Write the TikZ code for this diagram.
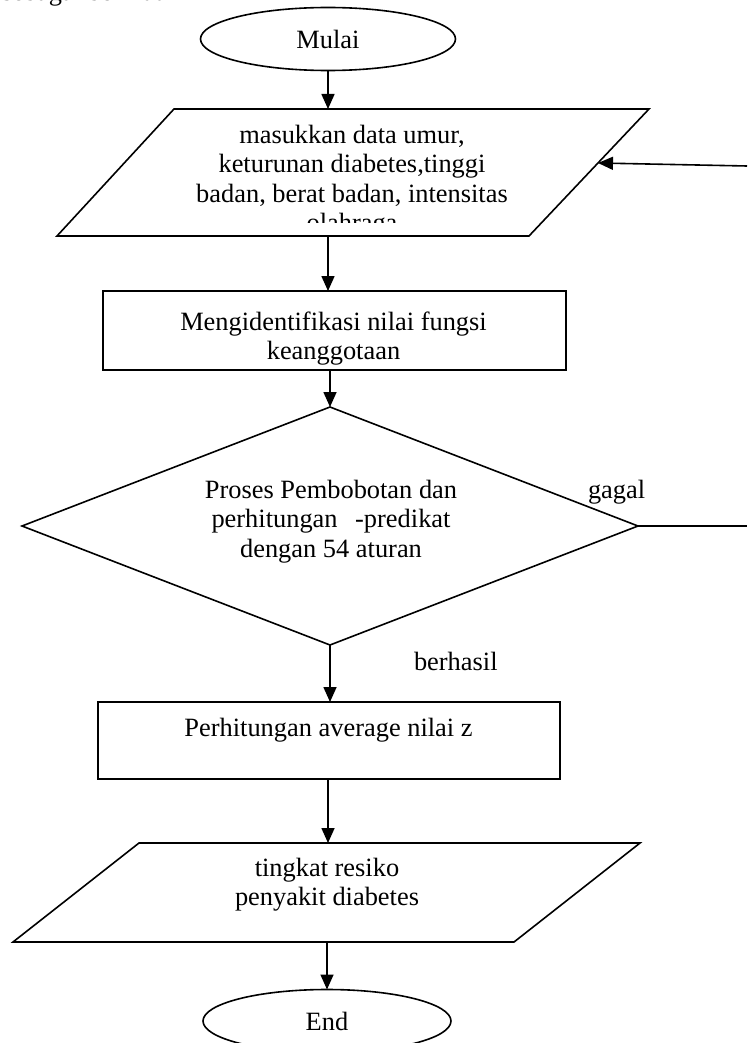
\documentclass[tikz,border=0pt]{standalone}
\usepackage{fontspec}
\setmainfont{Liberation Serif}
\usetikzlibrary{arrows.meta,shapes.geometric,calc}
\begin{document}
\begin{tikzpicture}[x=1pt,y=-1pt,
  every node/.style={font=\fontsize{26.4}{29.5}\selectfont, inner sep=0pt, outer sep=0pt},
  shapeline/.style={draw=black, line width=1.6pt},
  txt/.style={align=center},
  lbl/.style={anchor=base west},
  arr/.style={-{Triangle[length=15pt,width=13pt]}, line width=1.6pt},
  term/.style={ellipse, shapeline, minimum width=#1, minimum height=63pt},
  procbox/.style={rectangle, shapeline, minimum width=#1},
  decbox/.style={diamond, shapeline, minimum width=616pt, minimum height=238pt}
]
\useasboundingbox (0,0) rectangle (747,1043);

% cut-off heading text
\begin{scope}
  \clip (0,0) rectangle (747,1043);
  \node[lbl] (head) at (2,0.5) {sebagai berikut};
\end{scope}

% start
\node[term=255pt] (m) at (328,39) {Mulai};

% input parallelogram
\coordinate (p1a) at (174,109);
\coordinate (p1b) at (649,109);
\coordinate (p1c) at (529,236);
\coordinate (p1d) at (57,236);
\draw[shapeline, line join=miter] (p1a) -- (p1b) -- (p1c) -- (p1d) -- cycle;
\coordinate (p1n) at (328,109);
\coordinate (p1s) at (328,236);
\coordinate (p1e) at (598,163);
\begin{scope}
  \clip (0,100) rectangle (747,222.5);
  \node[txt] (p1t) at (352,181) {masukkan data umur,\\keturunan diabetes,tinggi\\badan, berat badan, intensitas\\olahraga};
\end{scope}

% process 1
\node[procbox=463pt, minimum height=79pt] (r1) at (334.5,330.5) {};
\node[txt] (r1t) at (333.5,338.6) {Mengidentifikasi nilai fungsi\\keanggotaan};

% decision
\node[decbox] (d) at (330,526) {};
\node[txt] (dt) at (331,521.4) {Proses Pembobotan dan\\perhitungan \hspace{11pt}-predikat\\dengan 54 aturan};
\node[lbl] (gagal) at (588,498) {gagal};
\node[lbl] (berhasil) at (414,670) {berhasil};

% process 2
\node[procbox=462pt, minimum height=77pt] (r2) at (329,740.5) {};
\node[anchor=base] (r2t) at (328.5,736) {Perhitungan average nilai z};

% output parallelogram
\coordinate (p2a) at (139,843);
\coordinate (p2b) at (640,843);
\coordinate (p2c) at (514,942);
\coordinate (p2d) at (13,942);
\draw[shapeline, line join=miter] (p2a) -- (p2b) -- (p2c) -- (p2d) -- cycle;
\coordinate (p2n) at (328,843);
\coordinate (p2s) at (327,942);
\node[txt] (p2t) at (327,884.6) {tingkat resiko\\penyakit diabetes};

% end
\node[term=248pt] (e) at (327,1021) {End};

% connectors
\draw[arr] (m.south) -- (p1n);
\draw[arr] (p1s) -- (p1s |- r1.north);
\draw[arr] (r1.south -| d.north) -- (d.north);
\draw[arr] (d.south) -- (d.south |- r2.north);
\draw[arr] (r2.south -| p2n) -- (p2n);
\draw[arr] (p2s) -- (e.north);

% loop back (gagal)
\coordinate (dexit) at (747,526);
\coordinate (loopin) at (747,166);
\draw[shapeline] (d.east) -- (dexit);
\draw[arr] (loopin) -- (p1e);
\end{tikzpicture}
\end{document}
